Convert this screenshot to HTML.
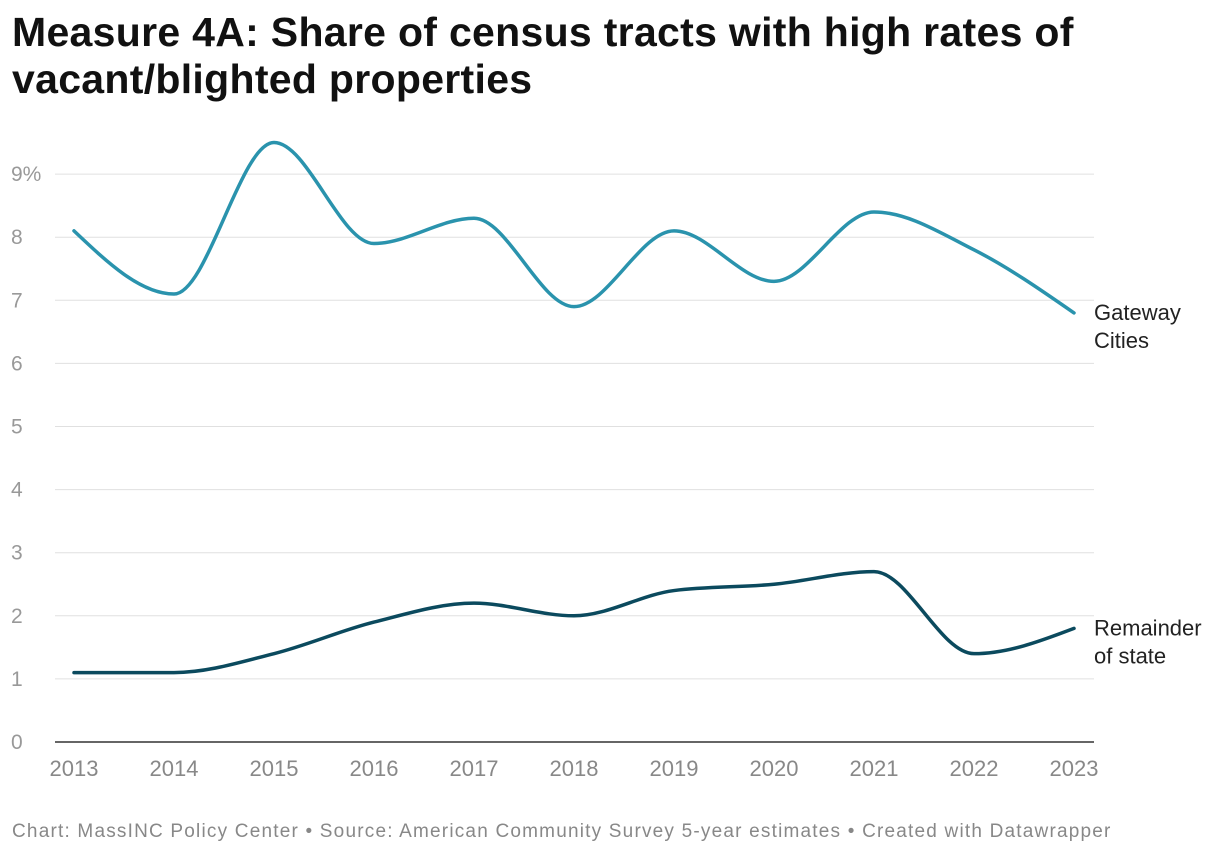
<!DOCTYPE html>
<html><head><meta charset="utf-8"><style>
body{margin:0;background:#fff;width:1220px;height:858px;overflow:hidden;font-family:"Liberation Sans",sans-serif}
h1{position:absolute;left:12px;top:9px;margin:0;font-size:41px;line-height:47px;font-weight:bold;color:#111;letter-spacing:0.3px;width:1208px}
#foot{position:absolute;left:12px;top:821px;font-size:19px;letter-spacing:1.2px;color:#888;white-space:nowrap}
svg{position:absolute;left:0;top:0}
</style></head><body>
<h1>Measure 4A: Share of census tracts with high rates of vacant/blighted properties</h1>
<svg id="c" width="1220" height="858"></svg>
<div id="foot">Chart: MassINC Policy Center • Source: American Community Survey 5-year estimates • Created with Datawrapper</div>
<script>
const years=[2013,2014,2015,2016,2017,2018,2019,2020,2021,2022,2023];
const gateway=[8.1,7.1,9.5,7.9,8.3,6.9,8.1,7.3,8.4,7.8,6.8];
const remainder=[1.1,1.1,1.4,1.9,2.2,2.0,2.4,2.5,2.7,1.4,1.8];
const yTicks=[0,1,2,3,4,5,6,7,8,9];
const ns="http://www.w3.org/2000/svg",svg=document.getElementById('c');
const X=v=>74+(v-2013)*100, Y=v=>742-v*63.1;
function mk(t,a,p){const e=document.createElementNS(ns,t);for(const k in a)e.setAttribute(k,a[k]);(p||svg).appendChild(e);return e;}
yTicks.forEach(t=>{
 if(t>0){const l=mk('line',{x1:55,x2:1094,y1:Y(t),y2:Y(t),stroke:'#e0e0e0','stroke-width':1});
 }
 const tx=mk('text',{x:11,y:Y(t)+7,'font-size':21,fill:'#999'});tx.textContent=t+(t==9?'%':'');
 
});
const ax=mk('line',{x1:55,x2:1094,y1:742,y2:742,stroke:'#333','stroke-width':1.5});

years.forEach(y=>{const t=mk('text',{x:X(y),y:776,'font-size':22,fill:'#888','text-anchor':'middle'});t.textContent=y;
 });
function mono(xs,ys){const n=xs.length,d=[],m=[];for(let i=0;i<n-1;i++)d.push((ys[i+1]-ys[i])/(xs[i+1]-xs[i]));
 m[0]=d[0];m[n-1]=d[n-2];
 for(let i=1;i<n-1;i++){if(d[i-1]*d[i]<=0)m[i]=0;else{const h0=xs[i]-xs[i-1],h1=xs[i+1]-xs[i];
  const s=(d[i-1]*h1+d[i]*h0)/(h0+h1);m[i]=Math.sign(s)*Math.min(Math.abs(s),2*Math.abs(d[i-1]),2*Math.abs(d[i]));}}
 m[0]=(3*d[0]-m[1])/2;m[n-1]=(3*d[n-2]-m[n-2])/2;
 let p='M'+xs[0]+','+ys[0];
 for(let i=0;i<n-1;i++){const h=(xs[i+1]-xs[i])/3;p+=`C${xs[i]+h},${ys[i]+m[i]*h} ${xs[i+1]-h},${ys[i+1]-m[i+1]*h} ${xs[i+1]},${ys[i+1]}`;}
 return p;}
function series(vals,col,name,lab){
 const p=mk('path',{d:mono(years.map(X),vals.map(Y)),fill:'none',stroke:col,'stroke-width':3.5,'stroke-linecap':'round'});
 
 const yy=Y(vals[vals.length-1]);
 lab.forEach((s,i)=>{const t=mk('text',{x:1094,y:yy+7+i*28,'font-size':22,fill:'#222'});t.textContent=s;
  });
}
series(gateway,'#2a93ad','gateway-cities',['Gateway','Cities']);
series(remainder,'#0b4a5e','remainder-of-state',['Remainder','of state']);
</script>
</body></html>
